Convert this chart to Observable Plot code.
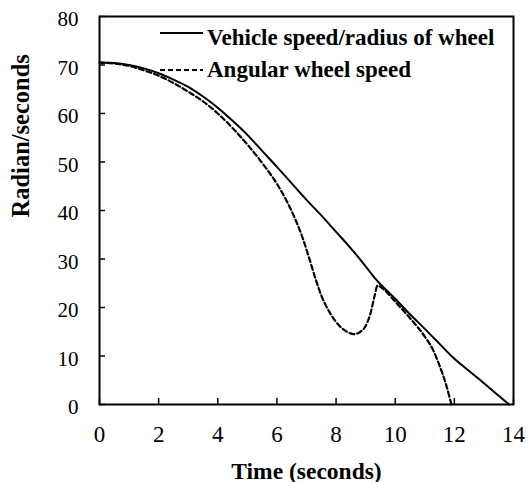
<!DOCTYPE html>
<html>
<head>
<meta charset="utf-8">
<script src="https://cdn.jsdelivr.net/npm/d3@7"></script>
<script src="https://cdn.jsdelivr.net/npm/@observablehq/plot@0.6"></script>
<style>
  body { margin: 0; background: #fff; }
  #wrap { position: relative; width: 530px; height: 482px; overflow: hidden; }
  #legend { position: absolute; left: 0; top: 0; }
</style>
</head>
<body>
<div id="wrap"></div>
<script>
// Time (s) and values
const vehicleTime  = [0, 0.5, 1, 1.5, 2, 2.5, 3, 3.5, 4, 4.5, 5, 5.5, 6, 6.5, 7, 7.5, 8, 8.5, 9, 9.35, 10, 10.5, 11, 11.5, 11.9, 12.5, 13, 13.5, 13.85];
const vehicleSpeed = [70.5, 70.4, 70, 69.3, 68.3, 67, 65.5, 63.5, 61.2, 58.5, 55.6, 52.3, 49, 45.6, 42.2, 39, 35.6, 32.2, 28.5, 25.8, 21.8, 18.6, 15.6, 12.5, 10, 6.9, 4.4, 1.8, 0];

const wheelTime  = [0, 0.5, 1, 1.5, 2, 2.5, 3, 3.5, 4, 4.5, 5, 5.5, 6, 6.3, 6.6, 6.9, 7.1, 7.3, 7.5, 7.8, 8.1, 8.4, 8.6, 8.8, 9.0, 9.15, 9.3, 9.4, 9.6, 10, 10.5, 11, 11.3, 11.5, 11.7, 11.85, 11.9];
const wheelSpeed = [70.5, 70.3, 69.8, 68.9, 67.8, 66.3, 64.5, 62.5, 60, 57, 53.6, 49.8, 45.5, 42.3, 38.5, 33.8, 30, 26, 22.5, 18.8, 16.3, 14.9, 14.5, 14.9, 16.2, 18.5, 22.3, 24.5, 23.8, 21.2, 17.8, 14, 11, 8, 4.5, 1.2, 0];

const xTicks = [0, 2, 4, 6, 8, 10, 12, 14];
const yTicks = [0, 10, 20, 30, 40, 50, 60, 70, 80];
const seriesNames = ["Vehicle speed/radius of wheel", "Angular wheel speed"];
const xTitle = "Time (seconds)";
const yTitle = "Radian/seconds";

const vehicle = vehicleTime.map((t, i) => ({t, v: vehicleSpeed[i]}));
const wheel = wheelTime.map((t, i) => ({t, v: wheelSpeed[i]}));

const W = 530, H = 482;
const mL = 99, mR = 17, mT = 16, mB = 78;
const pw = W - mL - mR, ph = H - mT - mB;
const font = "'Liberation Serif', 'Times New Roman', serif";

const chart = Plot.plot({
  width: W, height: H,
  marginLeft: mL, marginRight: mR, marginTop: mT, marginBottom: mB,
  style: {fontFamily: font, fontSize: "21px", color: "#000", background: "#fff", overflow: "visible"},
  x: {domain: [0, 14]},
  y: {domain: [0, 80]},
  marks: [
    Plot.axisX(xTicks, {tickSize: 0, tickPadding: 21, label: null, fontSize: 23}),
    Plot.axisY(yTicks, {tickSize: 0, tickPadding: 21, label: null, fontSize: 21, dy: 3}),
    Plot.tickX(xTicks, {x: d => d, insetTop: ph - 6, stroke: "#000", strokeWidth: 1.5}),
    Plot.tickY(yTicks, {y: d => d, insetRight: pw - 6, stroke: "#000", strokeWidth: 1.5}),
    Plot.line(vehicle, {x: "t", y: "v", stroke: "#000", strokeWidth: 2, curve: "monotone-x"}),
    Plot.line(wheel, {x: "t", y: "v", stroke: "#000", strokeWidth: 2.2, strokeDasharray: "5,3", curve: "monotone-x"}),
    Plot.frame({stroke: "#000", strokeWidth: 2}),
    Plot.text([xTitle], {frameAnchor: "bottom", dy: 74, lineAnchor: "bottom", fontWeight: "bold", fontSize: 23.5, fill: "#000"}),
    Plot.text([yTitle], {frameAnchor: "left", dx: -78.5, dy: 7, rotate: -90, lineAnchor: "middle", fontWeight: "bold", fontSize: 24.5, fill: "#000"})
  ]
});
document.getElementById("wrap").appendChild(chart);

// Legend overlay
const ns = "http://www.w3.org/2000/svg";
const leg = document.createElementNS(ns, "svg");
leg.setAttribute("id", "legend");
leg.setAttribute("width", W);
leg.setAttribute("height", 100);
const rows = [
  {name: seriesNames[0], y: 33, base: 45, dash: null},
  {name: seriesNames[1], y: 70, base: 77, dash: "5,3"}
];
rows.forEach(r => {
  const ln = document.createElementNS(ns, "line");
  ln.setAttribute("x1", 160); ln.setAttribute("x2", 203);
  ln.setAttribute("y1", r.y); ln.setAttribute("y2", r.y);
  ln.setAttribute("stroke", "#000"); ln.setAttribute("stroke-width", 2);
  if (r.dash) ln.setAttribute("stroke-dasharray", r.dash);
  leg.appendChild(ln);
  const tx = document.createElementNS(ns, "text");
  tx.setAttribute("x", 207); tx.setAttribute("y", r.base);
  tx.setAttribute("font-family", font);
  tx.setAttribute("font-weight", "bold");
  tx.setAttribute("font-size", 23);
  tx.setAttribute("fill", "#000");
  tx.textContent = r.name;
  leg.appendChild(tx);
});
document.getElementById("wrap").appendChild(leg);
</script>
</body>
</html>
